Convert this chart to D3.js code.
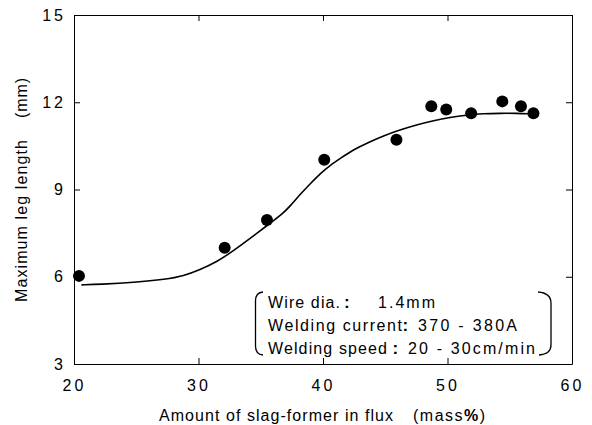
<!DOCTYPE html>
<html>
<head>
<meta charset="utf-8">
<script src="https://cdn.jsdelivr.net/npm/d3@7"></script>
<style>
  body { margin: 0; background: #fff; }
  text { font-family: "Liberation Sans", Arial, sans-serif; fill: #000; }
</style>
</head>
<body>
<svg width="592" height="425"></svg>
<script>
// measured points (slag-former %, leg length mm)
const pointsX = [20.4, 32.1, 35.5, 40.1, 45.9, 48.7, 49.9, 51.9, 54.4, 55.9, 56.9];
const pointsY = [6.03, 7.0, 7.95, 10.02, 10.71, 11.86, 11.75, 11.62, 12.03, 11.86, 11.62];

// fitted curve
const curveX = [20.6, 22.1, 24.8, 27.4, 28.8, 30.1, 31.5, 32.8, 34.1, 35.5, 36.8, 37.4, 38.2, 39.0,
    39.8, 40.6, 41.4, 42.4, 43.5, 44.8, 46.2, 47.5, 48.9, 50.2, 51.5, 52.9, 54.2, 55.6, 56.6];
const curveY = [5.72, 5.74, 5.80, 5.91, 6.03, 6.24, 6.52, 6.89, 7.30, 7.76, 8.18, 8.45, 8.85, 9.21,
    9.56, 9.84, 10.07, 10.36, 10.59, 10.84, 11.05, 11.22, 11.37, 11.48, 11.56, 11.61, 11.62, 11.62, 11.60];

const xTicks = [20, 30, 40, 50, 60];
const yTicks = [3, 6, 9, 12, 15];

const noteLabels = ['Wire dia.', 'Welding current', 'Welding speed'];
const noteValues = ['1.4mm', '370 - 380A', '20 - 30cm/min'];

let svg = d3.select('svg');

let x = d3.scaleLinear().domain([20, 60]).range([74, 572]);
let y = d3.scaleLinear().domain([3, 15]).range([364, 15]);

function styleAxis(g) {
    g.attr('font-family', null).attr('font-size', null);
    g.select('.domain').attr('stroke', '#000');
    g.selectAll('.tick line').attr('stroke', '#000');
    g.selectAll('.tick text')
        .attr('font-size', 16)
        .attr('letter-spacing', 3);
}

svg.append('g')
    .attr('transform', 'translate(0,364)')
    .call(d3.axisBottom(x).tickValues(xTicks).tickSizeInner(-6).tickSizeOuter(0).tickPadding(16))
    .call(styleAxis);

svg.append('g')
    .attr('transform', 'translate(0,15)')
    .call(d3.axisTop(x).tickValues(xTicks).tickSizeInner(-6).tickSizeOuter(0).tickFormat(() => ''))
    .call(styleAxis);

svg.append('g')
    .attr('transform', 'translate(74,0)')
    .call(d3.axisLeft(y).tickValues(yTicks).tickSizeInner(-6).tickSizeOuter(0).tickPadding(8))
    .call(styleAxis);

svg.append('g')
    .attr('transform', 'translate(572,0)')
    .call(d3.axisRight(y).tickValues(yTicks).tickSizeInner(-6).tickSizeOuter(0).tickFormat(() => ''))
    .call(styleAxis);

// axis titles
let yTitle = svg.append('text')
    .attr('transform', 'translate(27,302) rotate(-90)')
    .attr('font-size', 16);
yTitle.append('tspan').attr('x', 0).attr('textLength', 162).text('Maximum leg length');
yTitle.append('tspan').attr('x', 184).attr('textLength', 40).text('(mm)');

let xTitle = svg.append('text')
    .attr('x', 159)
    .attr('y', 421)
    .attr('font-size', 16);
xTitle.append('tspan').attr('textLength', 234).text('Amount of slag-former in flux');
xTitle.append('tspan').attr('x', 413).attr('letter-spacing', 1.5).text('(mass');
xTitle.append('tspan').attr('font-weight', 'bold').attr('letter-spacing', 1.5).text('%');
xTitle.append('tspan').attr('letter-spacing', 1.5).text(')');

// fitted line
let line = d3.line()
    .x((d, i) => x(curveX[i]))
    .y(d => y(d))
    .curve(d3.curveBasis);

svg.append('path')
    .attr('d', line(curveY))
    .attr('fill', 'none')
    .attr('stroke', '#000')
    .attr('stroke-width', 1.6);

svg.append('g')
    .selectAll('circle')
    .data(pointsY)
    .enter().append('circle')
    .attr('cx', (d, i) => x(pointsX[i]))
    .attr('cy', d => y(d))
    .attr('r', 6)
    .attr('fill', '#000');

// conditions box
let labelLen = [72, 134, 119];
let colonX = [344, 402.5, 392.5];
let valueX = [378, 418, 408];
let valueLen = [57, 99, 127];
let note = svg.append('g').attr('font-size', 16);
noteLabels.forEach((t, i) => {
    let by = 308 + i * 23;
    note.append('text').attr('x', 268).attr('y', by).attr('textLength', labelLen[i]).text(t);
    note.append('text').attr('x', colonX[i]).attr('y', by).attr('font-weight', 'bold').attr('font-size', 17).text(':');
    note.append('text').attr('x', valueX[i]).attr('y', by).attr('textLength', valueLen[i]).text(noteValues[i]);
});

note.append('path')
    .attr('d', 'M263,292 Q255.5,292.5 255.5,301 L255.5,346 Q255.5,354.5 263,355')
    .attr('fill', 'none').attr('stroke', '#000').attr('stroke-width', 1.3);
note.append('path')
    .attr('d', 'M538,292 Q551,293 551,303 L551,345 Q551,354 539,355')
    .attr('fill', 'none').attr('stroke', '#000').attr('stroke-width', 1.3);
</script>
</body>
</html>
